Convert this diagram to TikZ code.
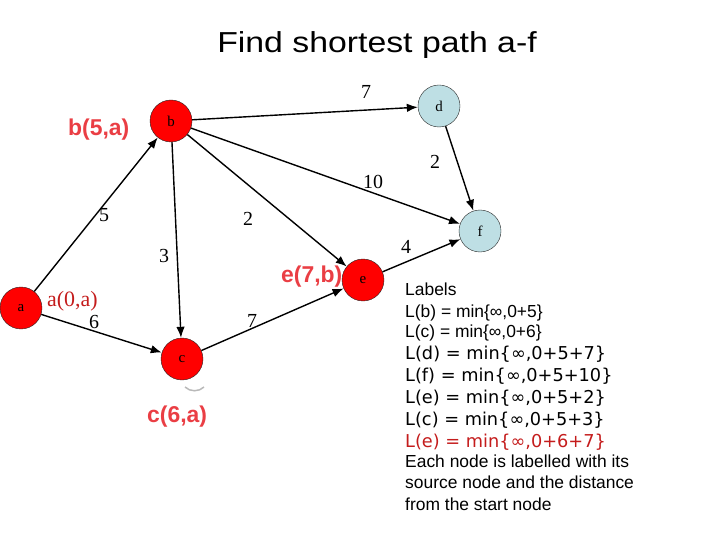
\documentclass[tikz,border=0pt]{standalone}
\usepackage{fontspec}
\setmainfont{Liberation Serif}
\setsansfont{Liberation Sans}
\newfontfamily\verdana{DejaVu Sans}
\usetikzlibrary{arrows.meta}
\definecolor{nodered}{RGB}{255,0,0}
\definecolor{nodeblue}{RGB}{190,223,228}
\definecolor{tagred}{RGB}{234,62,68}
\definecolor{darkred}{RGB}{196,28,28}

\begin{document}
\begin{tikzpicture}[x=1bp,y=-1bp,>={Latex[length=11bp,width=8.5bp]},
   vertex/.style={circle,draw=black!85,minimum size=42bp,inner sep=0pt,font=\fontsize{15}{15}\selectfont},
   redv/.style={vertex,fill=nodered},
   bluev/.style={vertex,fill=nodeblue},
   weight/.style={font=\fontsize{20}{20}\selectfont,inner sep=0pt},
   tag/.style={text=tagred,font=\sffamily\bfseries\fontsize{23}{23}\selectfont,inner sep=0pt,anchor=base west},
   line/.style={font=\sffamily\fontsize{17.5}{17.5}\selectfont,inner sep=0pt,anchor=base west},
   wideline/.style={font=\verdana\fontsize{17.8}{17.8}\selectfont,inner sep=0pt,anchor=base west}]
   \useasboundingbox (0,0) rectangle (720,540);
   % Title
   \node [font=\sffamily\fontsize{29}{29}\selectfont,inner sep=0pt,anchor=base] (title) at (377,53) {\scalebox{1.17}[1]{Find shortest path a-f}};
   % Labels of visited nodes (behind the nodes)
   \node [tag] (tb) at (68,136) {b(5,a)};
   \node [tag] (te) at (281,283) {e(7,b)};
   \node [tag] (tc) at (147,422) {c(6,a)};
   \node [text=darkred,font=\fontsize{22}{22}\selectfont,inner sep=0pt,anchor=base west] (ta) at (47,306) {a(0,a)};
   \draw [gray!55,line width=1.5bp] (185,387) .. controls (190,392) and (199,392) .. (204,387);
   % Vertices
   \node [redv] (a) at (21,308) {a};
   \node [redv] (b) at (171,121) {b};
   \node [redv] (c) at (182,359) {c};
   \node [redv] (e) at (363,280) {e};
   \node [bluev] (d) at (439,106) {d};
   \node [bluev] (f) at (480,231) {f};
   % Edges
   \begin{scope}[line width=1.4bp]
    \draw [->] (a) -- (b);
    \draw [->] (a) -- (c);
    \draw [->] (b) -- (c);
    \draw [->] (b) -- (e);
    \draw [->] (b) -- (d);
    \draw [->] (b) -- (f);
    \draw [->] (c) -- (e);
    \draw [->] (e) -- (f);
    \draw [->] (d) -- (f);
   \end{scope}
   % Weights
   \node [weight] (wab) at (104,215) {5};
   \node [weight] (wac) at (94,322) {6};
   \node [weight] (wbc) at (164,256) {3};
   \node [weight] (wbe) at (248,219) {2};
   \node [weight] (wbd) at (366,92) {7};
   \node [weight] (wbf) at (373,182) {10};
   \node [weight] (wdf) at (435,162) {2};
   \node [weight] (wef) at (406,247) {4};
   \node [weight] (wce) at (252,321) {7};
   % Text block
   \node [line] (l0) at (405,295) {Labels};
   \node [line] (l1) at (405,317) {L(b) = min\{∞,0+5\}};
   \node [line] (l2) at (405,337) {L(c) = min\{∞,0+6\}};
   \node [wideline] (l3) at (405,359) {L(d) = min\{∞,0+5+7\}};
   \node [wideline] (l4) at (405,381) {L(f) = min\{∞,0+5+10\}};
   \node [wideline] (l5) at (405,403) {L(e) = min\{∞,0+5+2\}};
   \node [wideline] (l6) at (405,425) {L(c) = min\{∞,0+5+3\}};
   \node [wideline,text=darkred] (l7) at (405,447) {L(e) = min\{∞,0+6+7\}};
   \node [line] (l8) at (405,467) {Each node is labelled with its};
   \node [line] (l9) at (405,488) {source node and the distance};
   \node [line] (l10) at (405,510) {from the start node};
\end{tikzpicture}
\end{document}
